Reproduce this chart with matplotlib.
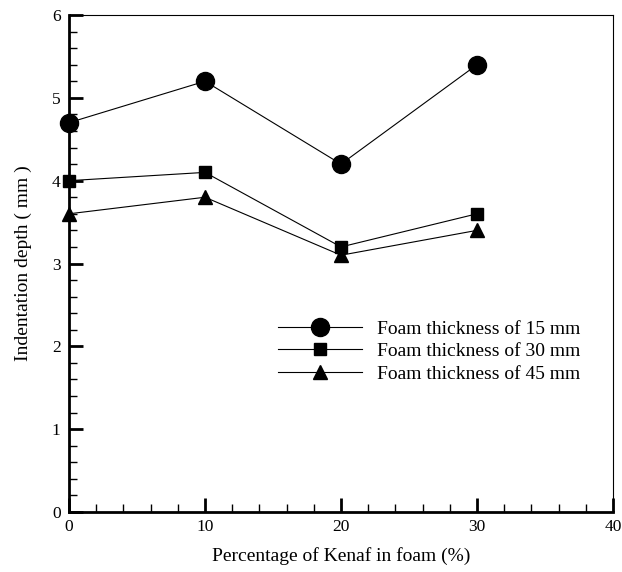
import numpy as np
import matplotlib.pyplot as plt
from matplotlib.ticker import MultipleLocator

plt.rcParams['font.family'] = 'Liberation Serif'
plt.rcParams['font.size'] = 12

# data
kenaf = [0, 10, 20, 30]
depth_15 = [4.7, 5.2, 4.2, 5.4]
depth_30 = [4.0, 4.1, 3.2, 3.6]
depth_45 = [3.6, 3.8, 3.1, 3.4]
labels = ['Foam thickness of 15 mm', 'Foam thickness of 30 mm', 'Foam thickness of 45 mm']

fig = plt.figure(figsize=(6.22, 5.72), dpi=100)
ax = fig.add_axes([69/622, 1-512/572, (613-69)/622, (512-15)/572])

ax.plot(kenaf, depth_15, 'k-', marker='o', ms=13, lw=0.8, clip_on=False, zorder=5, label=labels[0])
ax.plot(kenaf, depth_30, 'k-', marker='s', ms=8.5, lw=0.8, clip_on=False, zorder=5, label=labels[1])
ax.plot(kenaf, depth_45, 'k-', marker='^', ms=9.5, lw=0.8, clip_on=False, zorder=5, label=labels[2])

ax.set_xlim(0, 40)
ax.set_ylim(0, 6)
ax.xaxis.set_major_locator(MultipleLocator(10))
ax.xaxis.set_minor_locator(MultipleLocator(2))
ax.yaxis.set_major_locator(MultipleLocator(1))
ax.yaxis.set_minor_locator(MultipleLocator(0.2))
ax.tick_params(which='both', direction='in', top=False, right=False, labelsize=12.5, color='k')
ax.tick_params(which='major', length=10, width=2)
ax.tick_params(which='minor', length=6, width=1)
ax.tick_params(axis='x', pad=5)
ax.tick_params(axis='y', pad=6)
for s in ['left', 'bottom']:
    ax.spines[s].set_linewidth(2)
for s in ['top', 'right']:
    ax.spines[s].set_linewidth(0.8)

ax.set_xlabel('Percentage of Kenaf in foam (%)', fontsize=14, labelpad=9)
ax.set_ylabel('Indentation depth ( mm )', fontsize=14, labelpad=14)

ax.legend(loc='upper left', bbox_to_anchor=((278-69)/544, (512-320)/497), frameon=False,
          borderaxespad=0, borderpad=0,
          handlelength=4.3, handletextpad=0.8, labelspacing=0.26, fontsize=14)

fig.savefig('out.png', dpi=100)
